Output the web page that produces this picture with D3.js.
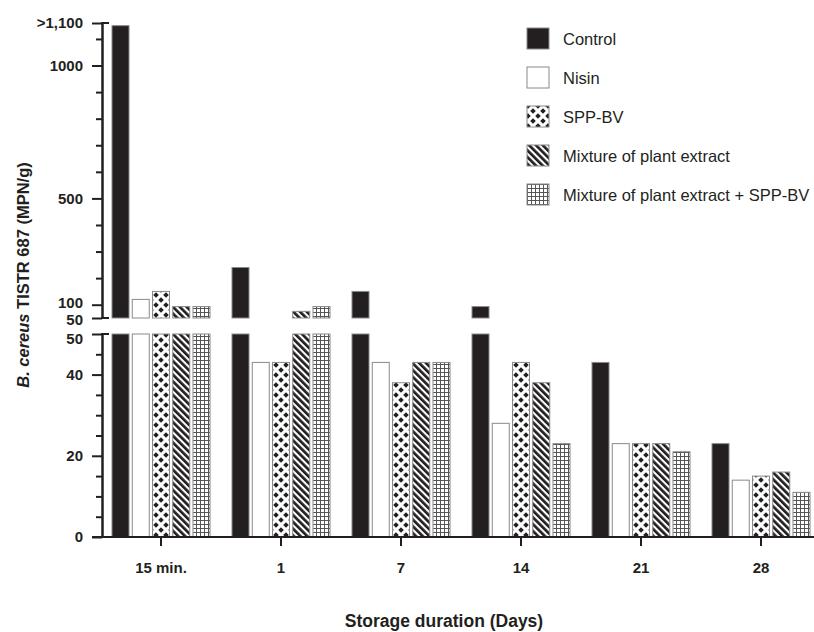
<!DOCTYPE html>
<html>
<head>
<meta charset="utf-8">
<script src="https://cdn.jsdelivr.net/npm/d3@7"></script>
<style>
    body { margin: 0; background: #fff; }
    #chart-area { width: 814px; height: 632px; }
    text { font-family: "Liberation Sans", Arial, Helvetica, sans-serif; fill: #231f20; }
</style>
</head>
<body>
<div id="chart-area"></div>
<script>

// storage days on the x axis
let days = ["15 min.", "1", "7", "14", "21", "28"];

// treatments (legend order)
let treatments = ["Control", "Nisin", "SPP-BV", "Mixture of plant extract", "Mixture of plant extract + SPP-BV"];

// MPN/g values (1150 stands for ">1,100")
let controlValues = [1150, 240, 150, 93, 43, 23];
let nisinValues = [120, 43, 43, 28, 23, 14];
let sppbvValues = [150, 43, 38, 43, 23, 15];
let mixValues = [93, 75, 43, 38, 23, 16];
let mixSppValues = [93, 93, 43, 23, 21, 11];

// axis ticks
let lowTicks = [0, 20, 40, 50];
let lowMinor = [5, 10, 15, 25, 30, 35, 45];
let highTicks = [50, 100, 500, 1000, 1160];
let highMinor = [200, 300, 400, 600, 700, 800, 900, 1100];
let highTickLabels = {1160: ">1,100"};

class BrokenBarVis {

    constructor(parentElement) {
        this.parentElement = parentElement;
        this.initVis();
    }

    initVis() {
        let vis = this;

        vis.width = 814;
        vis.height = 632;
        vis.axisX = 102;

        vis.svg = d3.select("#" + vis.parentElement).append("svg")
            .attr("width", vis.width)
            .attr("height", vis.height);

        // fill patterns for the treatments
        let defs = vis.svg.append("defs");

        let dots = defs.append("pattern")
            .attr("id", "pat-dots")
            .attr("patternUnits", "userSpaceOnUse")
            .attr("x", 1).attr("y", 0)
            .attr("width", 10).attr("height", 10);
        dots.append("rect").attr("width", 10).attr("height", 10).attr("fill", "#fff");
        let r = 2.8;
        let diamond = (cx, cy) => `M${cx},${cy - r}L${cx + r},${cy}L${cx},${cy + r}L${cx - r},${cy}Z`;
        dots.append("path")
            .attr("d", [[0, 0], [10, 0], [0, 10], [10, 10], [5, 5]].map(p => diamond(p[0], p[1])).join(""))
            .attr("fill", "#231f20");

        let stripes = defs.append("pattern")
            .attr("id", "pat-stripes")
            .attr("patternUnits", "userSpaceOnUse")
            .attr("width", 4.8).attr("height", 4.8)
            .attr("patternTransform", "rotate(-45)");
        stripes.append("rect").attr("width", 4.8).attr("height", 4.8).attr("fill", "#fff");
        stripes.append("rect").attr("width", 2.7).attr("height", 4.8).attr("fill", "#231f20");

        let grid = defs.append("pattern")
            .attr("id", "pat-grid")
            .attr("patternUnits", "userSpaceOnUse")
            .attr("width", 4).attr("height", 4);
        grid.append("rect").attr("width", 4).attr("height", 4).attr("fill", "#fff");
        grid.append("path")
            .attr("d", "M0,0.5H4M0.5,0V4")
            .attr("stroke", "#555")
            .attr("stroke-width", 1);

        vis.fills = ["#231f20", "#fff", "url(#pat-dots)", "url(#pat-stripes)", "url(#pat-grid)"];

        // scales: lower segment 0-50, upper segment 50-1,100+
        vis.x0 = d3.scaleBand().domain(days).range([101, 821]).padding(0);
        vis.x1 = d3.scaleBand().domain(treatments).range([11, 109]).paddingInner(0.16).paddingOuter(0);
        vis.yLow = d3.scaleLinear().domain([0, 50]).range([537, 334]);
        vis.yHigh = d3.scaleLinear().domain([50, 1160]).range([318, 23]);

        vis.wrangleData();
    }

    wrangleData() {
        let vis = this;

        let series = [controlValues, nisinValues, sppbvValues, mixValues, mixSppValues];

        vis.displayData = [];
        days.forEach((day, i) => {
            treatments.forEach((t, j) => {
                vis.displayData.push({day: day, treatment: t, index: j, value: series[j][i]});
            });
        });

        vis.updateVis();
    }

    updateVis() {
        let vis = this;

        let barGroup = vis.svg.append("g").attr("class", "bars");

        // lower part of each bar (capped at 50)
        barGroup.selectAll(".bar-low")
            .data(vis.displayData)
            .enter().append("rect")
            .attr("class", "bar-low")
            .attr("x", d => vis.x0(d.day) + vis.x1(d.treatment))
            .attr("width", vis.x1.bandwidth())
            .attr("y", d => vis.yLow(Math.min(d.value, 50)))
            .attr("height", d => vis.yLow(0) - vis.yLow(Math.min(d.value, 50)))
            .attr("fill", d => vis.fills[d.index])
            .attr("stroke", "#8a8a8a")
            .attr("stroke-width", 1);

        // upper part of bars above 50
        barGroup.selectAll(".bar-high")
            .data(vis.displayData.filter(d => d.value > 50))
            .enter().append("rect")
            .attr("class", "bar-high")
            .attr("x", d => vis.x0(d.day) + vis.x1(d.treatment))
            .attr("width", vis.x1.bandwidth())
            .attr("y", d => vis.yHigh(d.value))
            .attr("height", d => vis.yHigh(50) - vis.yHigh(d.value))
            .attr("fill", d => vis.fills[d.index])
            .attr("stroke", "#8a8a8a")
            .attr("stroke-width", 1);

        // y axes
        let styleAxis = function (g) {
            g.select(".domain").attr("stroke", "#231f20").attr("stroke-width", 2);
            g.selectAll(".tick line").attr("stroke", "#231f20").attr("stroke-width", 2);
            g.selectAll(".tick text")
                .attr("font-size", "15px")
                .attr("font-weight", "bold")
                .attr("fill", "#231f20");
        };

        let lowAxis = vis.svg.append("g")
            .attr("transform", `translate(${vis.axisX},0)`)
            .call(d3.axisLeft(vis.yLow).tickValues(lowTicks).tickSize(10).tickSizeOuter(0).tickPadding(9))
            .call(styleAxis);
        lowAxis.selectAll(".tick text").filter(d => d === 50).attr("dy", "0.62em");

        vis.svg.append("g")
            .attr("transform", `translate(${vis.axisX},0)`)
            .call(d3.axisLeft(vis.yLow).tickValues(lowMinor).tickSize(6).tickSizeOuter(0).tickFormat(""))
            .call(styleAxis);

        let highAxis = vis.svg.append("g")
            .attr("transform", `translate(${vis.axisX},0)`)
            .call(d3.axisLeft(vis.yHigh).tickValues(highTicks).tickSize(10).tickSizeOuter(0).tickPadding(9)
                .tickFormat(d => highTickLabels[d] || d))
            .call(styleAxis);
        highAxis.selectAll(".tick text").filter(d => d === 100).attr("dy", "0.18em");
        highAxis.selectAll(".tick text").filter(d => d === 50).attr("dy", "0.42em");

        vis.svg.append("g")
            .attr("transform", `translate(${vis.axisX},0)`)
            .call(d3.axisLeft(vis.yHigh).tickValues(highMinor).tickSize(6).tickSizeOuter(0).tickFormat(""))
            .call(styleAxis);

        // caps at the ends of the axis segments
        let caps = [vis.yHigh(1160), vis.yHigh(50), vis.yLow(50)];
        vis.svg.selectAll(".cap")
            .data(caps)
            .enter().append("line")
            .attr("class", "cap")
            .attr("x1", vis.axisX - 1).attr("x2", vis.axisX + 7)
            .attr("y1", d => d).attr("y2", d => d)
            .attr("stroke", "#231f20")
            .attr("stroke-width", 2);

        // x axis
        let xAxis = vis.svg.append("g")
            .attr("transform", `translate(0,${vis.yLow(0)})`)
            .call(d3.axisBottom(vis.x0).tickSize(9).tickSizeOuter(0).tickPadding(16));
        xAxis.select(".domain").remove();
        xAxis.selectAll(".tick line").attr("stroke", "#231f20").attr("stroke-width", 2);
        xAxis.selectAll(".tick text")
            .attr("font-size", "15px")
            .attr("font-weight", "bold")
            .attr("fill", "#231f20");

        vis.svg.append("line")
            .attr("x1", 92).attr("x2", vis.width)
            .attr("y1", vis.yLow(0)).attr("y2", vis.yLow(0))
            .attr("stroke", "#231f20")
            .attr("stroke-width", 2);

        // axis titles
        vis.svg.append("text")
            .attr("x", 444)
            .attr("y", 627)
            .attr("text-anchor", "middle")
            .attr("font-size", "17.5px")
            .attr("font-weight", "bold")
            .text("Storage duration (Days)");

        let yTitle = vis.svg.append("text")
            .attr("transform", "translate(29,275) rotate(-90)")
            .attr("text-anchor", "middle")
            .attr("font-size", "16.5px")
            .attr("font-weight", "bold");
        yTitle.append("tspan").attr("font-style", "italic").text("B. cereus");
        yTitle.append("tspan").text(" TISTR 687 (MPN/g)");

        // legend
        let legend = vis.svg.selectAll(".legend")
            .data(treatments)
            .enter().append("g")
            .attr("class", "legend")
            .attr("transform", (d, i) => `translate(527,${28 + i * 39})`);

        legend.append("rect")
            .attr("width", 22)
            .attr("height", 21)
            .attr("fill", (d, i) => vis.fills[i])
            .attr("stroke", "#8a8a8a")
            .attr("stroke-width", 1);

        legend.append("text")
            .attr("x", 36)
            .attr("y", 16.5)
            .attr("font-size", "16.5px")
            .text(d => d);
    }
}

new BrokenBarVis("chart-area");

</script>
</body>
</html>
